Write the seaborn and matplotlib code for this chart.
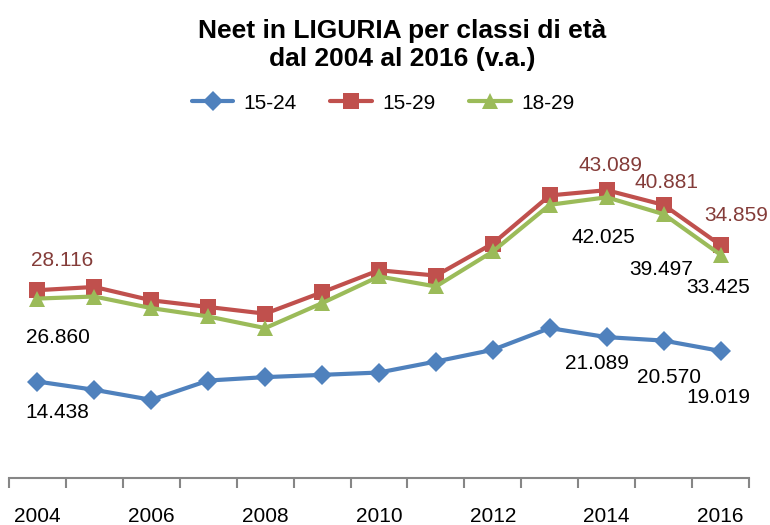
import numpy as np
import pandas as pd
import matplotlib
matplotlib.use('Agg')
import matplotlib.pyplot as plt
import seaborn as sns

# ── Data ─────────────────────────────────────────────────────
years = [2004, 2005, 2006, 2007, 2008, 2009, 2010, 2011, 2012, 2013, 2014, 2015, 2016]
neet_15_24 = [14.438, 13.20, 11.70, 14.59, 15.10, 15.44, 15.79, 17.44, 19.19, 22.44, 21.089, 20.570, 19.019]
neet_15_29 = [28.116, 28.60, 26.60, 25.60, 24.60, 27.80, 31.10, 30.30, 35.10, 42.30, 43.089, 40.881, 34.859]
neet_18_29 = [26.860, 27.17, 25.43, 24.18, 22.44, 26.18, 30.17, 28.67, 33.91, 40.90, 42.025, 39.497, 33.425]
series_names = ['15-24', '15-29', '18-29']
tick_years = [2004, 2006, 2008, 2010, 2012, 2014, 2016]

# which points carry a value label (index into years)
label_idx_15_24 = [0, 10, 11, 12]
label_idx_15_29 = [0, 10, 11, 12]
label_idx_18_29 = [0, 10, 11, 12]

colors = {'15-24': '#4F81BD', '15-29': '#C0504D', '18-29': '#9BBB59'}
markers = {'15-24': 'D', '15-29': 's', '18-29': '^'}
label_red = '#843C39'

df = pd.DataFrame({
    'anno': years * 3,
    'neet': neet_15_24 + neet_15_29 + neet_18_29,
    'classe': [s for s in series_names for _ in years],
})

# ── Figure ───────────────────────────────────────────────────
sns.set_style('white')
plt.rcParams['font.family'] = ['Liberation Sans', 'DejaVu Sans']
plt.rcParams['text.color'] = 'black'
plt.rcParams['xtick.color'] = 'black'

fig = plt.figure(figsize=(7.7, 5.25), dpi=100)
ax = fig.add_axes([9 / 770, 47 / 525, 740 / 770, 334 / 525])

sns.lineplot(data=df, x='anno', y='neet', hue='classe', style='classe',
             hue_order=series_names, style_order=series_names,
             palette=colors, markers=markers, dashes=False,
             linewidth=3, markersize=11, markeredgewidth=0, ax=ax, legend=True)

# marker sizes per series
for line, ms in zip(ax.lines[:3], [10, 11, 12]):
    line.set_markersize(ms)

# ── Value labels (pixel offsets from the point) ──────────────
off_15_24 = [(20, -31), (-10, -26), (5, -37), (-2, -47)]
off_15_29 = [(25, 30), (4, 25), (3, 22), (16, 30)]
off_18_29 = [(20, -39), (-3, -40), (-2, -55), (-2, -33)]

for vals, idx, offs, col in [
    (neet_15_24, label_idx_15_24, off_15_24, 'black'),
    (neet_15_29, label_idx_15_29, off_15_29, label_red),
    (neet_18_29, label_idx_18_29, off_18_29, 'black'),
]:
    for i, (dx, dy) in zip(idx, offs):
        ax.annotate(f'{vals[i]:.3f}', xy=(years[i], vals[i]), xytext=(dx, dy),
                    textcoords='offset pixels', ha='center', va='center',
                    fontsize=15, color=col)

# ── Axes styling ─────────────────────────────────────────────
ax.set_xlim(2003.5, 2016.5)
ax.set_ylim(0, 50)
ax.set_yticks([])
ax.set_xlabel('')
ax.set_ylabel('')
ax.set_xticks(tick_years)
ax.set_xticklabels([str(y) for y in tick_years], fontsize=15)
ax.set_xticks(np.arange(2003.5, 2017, 1), minor=True)
ax.tick_params(axis='x', which='major', bottom=True, length=0, pad=21)
ax.tick_params(axis='x', which='minor', bottom=True, length=7, width=1.5,
               color='#868686', direction='out')
for side in ['top', 'left', 'right']:
    ax.spines[side].set_visible(False)
ax.spines['bottom'].set_color('#868686')
ax.spines['bottom'].set_linewidth(1.5)
ax.grid(False)

# ── Legend and title ─────────────────────────────────────────
handles, labels = ax.get_legend_handles_labels()
ax.legend_.remove()
for h, ms in zip(handles, [10, 11, 12]):
    h.set_markersize(ms)
fig.legend(handles, labels, loc='center', bbox_to_anchor=(383 / 770, 1 - 103 / 525),
           ncol=3, frameon=False, fontsize=15, handlelength=2.0,
           columnspacing=1.6, handletextpad=0.5)

fig.text(402 / 770, 1 - 45 / 525, 'Neet in LIGURIA per classi di età\ndal 2004 al 2016 (v.a.)',
         ha='center', va='center', fontsize=19, fontweight='bold', linespacing=1.2)

fig.savefig('out.png', dpi=100)
